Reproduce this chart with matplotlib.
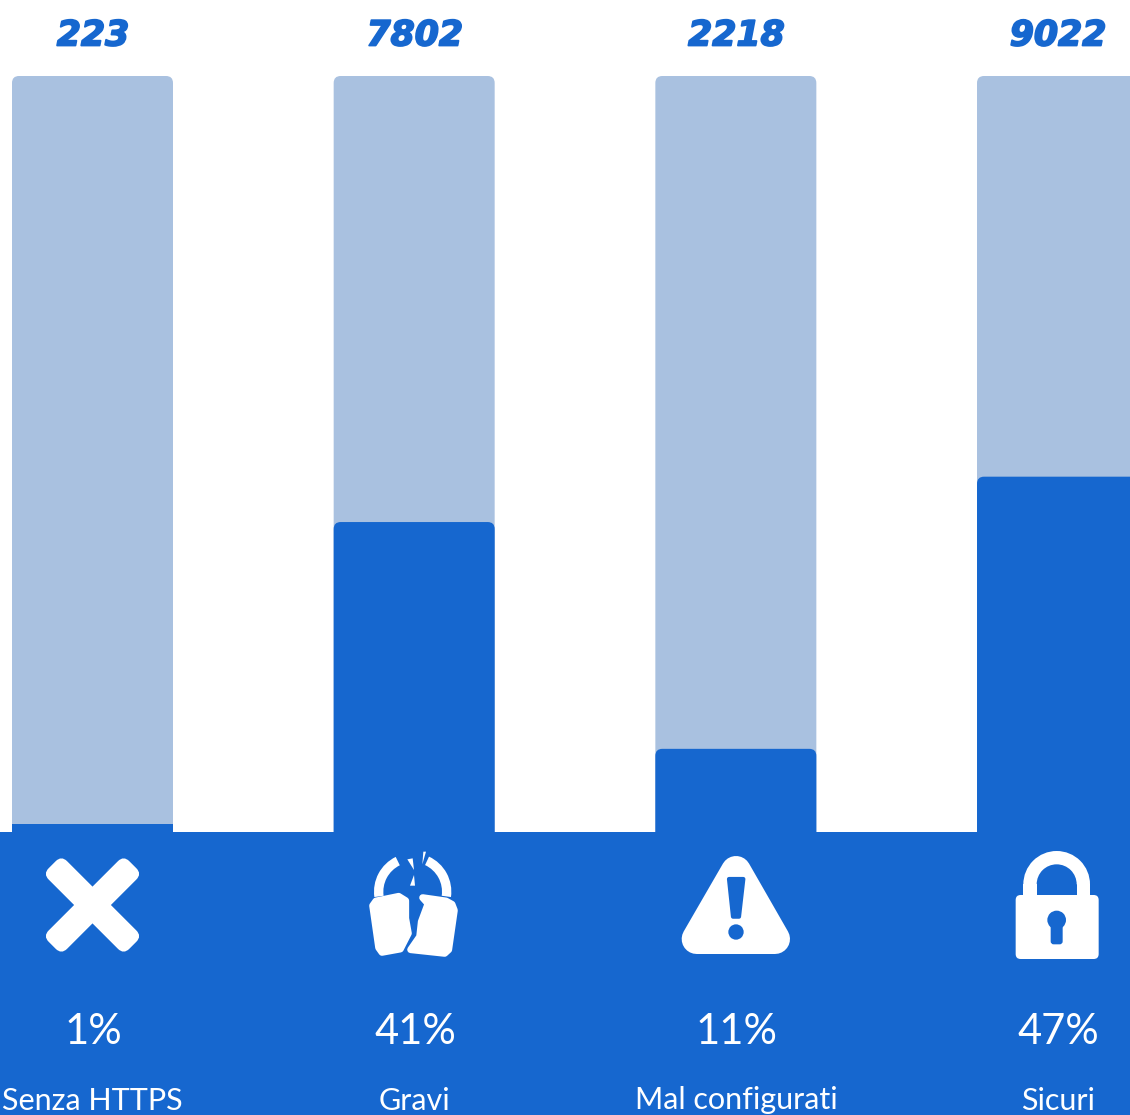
import matplotlib
matplotlib.use("Agg")
import matplotlib.pyplot as plt
import matplotlib.patheffects as pe
from matplotlib.patches import PathPatch, Polygon, Circle, FancyBboxPatch, Wedge
from matplotlib.path import Path
from matplotlib.transforms import Affine2D

# values
categories = ["Senza HTTPS", "Gravi", "Mal configurati", "Sicuri"]
counts = [223, 7802, 2218, 9022]
percents = [1, 41, 11, 47]

BLUE = "#1667cf"
LIGHT = "#a9c1e0"
W, H = 1130, 1115

fig = plt.figure(figsize=(W / 100, H / 100), dpi=100, facecolor="white")

# background axes in pixels, used for the band and the icons
bg = fig.add_axes([0, 0, 1, 1])
bg.set_xlim(0, W)
bg.set_ylim(H, 0)
bg.axis("off")
bg.add_patch(plt.Rectangle((0, 832), W, H - 832, color=BLUE, lw=0))

# bars axes: x is the category index, y is percent
ax = fig.add_axes([0, (H - 832) / H, 1, 756 / H])
step = 321.67
ax.set_xlim(-92.5 / step, (W - 92.5) / step)
ax.set_ylim(0, 100)
ax.axis("off")
ax.patch.set_alpha(0)


def top_round_bar(x, width, height, color):
    rx = 7 / step
    ry = 7 / 7.56
    x0, x1 = x - width / 2, x + width / 2
    if height < 2:
        # the 1% sliver has square corners
        ax.bar(x, height, width, color=color, lw=0)
        return
    verts = [(x0, 0), (x0, height - ry), (x0, height), (x0 + rx, height),
             (x1 - rx, height), (x1, height), (x1, height - ry), (x1, 0), (x0, 0)]
    codes = [Path.MOVETO, Path.LINETO, Path.CURVE3, Path.CURVE3,
             Path.LINETO, Path.CURVE3, Path.CURVE3, Path.LINETO, Path.CLOSEPOLY]
    ax.add_patch(PathPatch(Path(verts, codes), fc=color, ec="none"))


bar_width = 161 / step
for i, p in enumerate(percents):
    top_round_bar(i, bar_width, 100, LIGHT)
    top_round_bar(i, bar_width, p, BLUE)
ax.set_xlim(-92.5 / step, (W - 92.5) / step)
ax.set_ylim(0, 100)

heavy = [pe.withStroke(linewidth=1.3, foreground=BLUE)]
centers = [92.5 + step * i for i in range(len(categories))]
for c, n, p, name in zip(centers, counts, percents, categories):
    bg.text(c + 0.5, 32, str(n), color=BLUE, fontsize=25, fontweight="bold", style="italic",
            family="DejaVu Sans", ha="center", va="center_baseline", path_effects=heavy)
    bg.text(c + 1, 1029, f"{p}%", color="white", fontsize=30, family="Lato",
            ha="center", va="center_baseline")
    bg.text(c, 1098, name, color="white", fontsize=22, family="Lato",
            ha="center", va="center_baseline")


def zoomed(points, ox, oy):
    return [(ox + a / 3, oy + b / 3) for a, b in points]


# X
for angle in (45, -45):
    tr = Affine2D().rotate_deg_around(92.5, 905, angle) + bg.transData
    bg.add_patch(FancyBboxPatch((92.5 - 57, 905 - 13), 114, 26,
                                boxstyle="round,pad=0,rounding_size=8",
                                fc="white", ec="none", transform=tr))

# broken lock
lock_bodies = [
    [(98, 212), (108, 198), (176, 184), (197, 197), (197, 250), (205, 295), (181, 342),
     (126, 352), (116, 338)],
    [(248, 188), (264, 206), (244, 260), (239, 305), (212, 344), (314, 355), (326, 344),
     (343, 226), (336, 208), (318, 198)],
]
for part in lock_bodies:
    bg.add_patch(Polygon(zoomed(part, 340, 835), closed=True, fc="white", ec="white",
                         lw=5, joinstyle="round"))
shards = [
    [(202, 73), (218, 70), (222, 105)],
    [(250, 50), (258, 50), (247, 88)],
    [(222, 120), (225, 152), (210, 152)],
]
for part in shards:
    bg.add_patch(Polygon(zoomed(part, 340, 835), closed=True, fc="white", ec="none"))
shackle_c = (340 + 218 / 3, 835 + 170 / 3)
bg.add_patch(Wedge(shackle_c, 116 / 3, 172, 244, width=28 / 3, fc="white", ec="none"))
bg.add_patch(Wedge(shackle_c, 116 / 3, 295, 368, width=28 / 3, fc="white", ec="none"))

# warning triangle
bg.add_patch(Polygon(zoomed([(140, 312), (375, 312), (258, 108)], 650, 835), closed=True,
                     fc="white", ec="white", lw=30 * 0.72, joinstyle="round"))
bg.add_patch(Polygon(zoomed([(237, 132), (280, 132), (267, 245), (249, 245)], 650, 835),
                     closed=True, fc=BLUE, ec=BLUE, lw=3, joinstyle="round"))
bg.add_patch(Circle((650 + 258 / 3, 835 + 291 / 3), 23 / 3, fc=BLUE, ec="none"))

# closed lock
lx = 990 + 200 / 3
bg.add_patch(Wedge((lx, 835 + 148 / 3), 100 / 3, 180, 360, width=40 / 3, fc="white", ec="none"))
for a in (100, 260):
    bg.add_patch(plt.Rectangle((990 + a / 3, 835 + 147 / 3), 40 / 3, 40 / 3, fc="white", ec="none"))
bg.add_patch(FancyBboxPatch((990 + 77 / 3, 835 + 180 / 3), 249 / 3, 192 / 3,
                            boxstyle="round,pad=0,rounding_size=5", fc="white", ec="none"))
bg.add_patch(Circle((lx, 835 + 255 / 3), 28 / 3, fc=BLUE, ec="none"))
bg.add_patch(FancyBboxPatch((990 + 182 / 3, 835 + 255 / 3), 36 / 3, 73 / 3,
                            boxstyle="round,pad=0,rounding_size=3", fc=BLUE, ec="none"))

fig.savefig("out.png", dpi=100)
